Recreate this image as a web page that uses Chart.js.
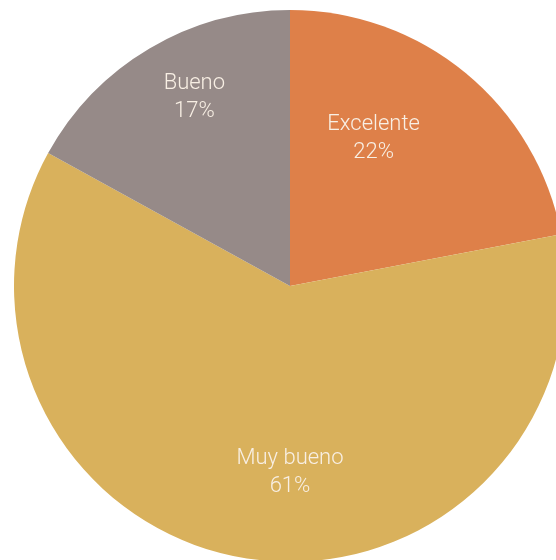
<!DOCTYPE html>
<html>
<head>
<meta charset="utf-8">
<script src="https://cdn.jsdelivr.net/npm/chart.js@4"></script>
<style>
  html, body { margin: 0; padding: 0; background: #fff; overflow: hidden; }
  #wrap { width: 580px; height: 572px; }
</style>
</head>
<body>
<div id="wrap"><canvas id="pieChart"></canvas></div>
<script>
// --- data ---
const categories = ['Excelente', 'Muy bueno', 'Bueno'];
const shares = [22, 61, 17];
const sliceColors = ['#de8049', '#d9b15c', '#968a88'];

// label placement (angle in degrees clockwise from top, radius as fraction of outer radius)
const labelAngles = [29.5, 180, -26.9];
const labelRadius = [0.615, 0.675, 0.766];

const sliceLabels = {
    id: 'sliceLabels',
    afterDatasetsDraw(chart) {
        const ctx = chart.ctx;
        const meta = chart.getDatasetMeta(0);
        ctx.save();
        ctx.fillStyle = '#f8efe4';
        ctx.font = '300 22px Roboto';
        ctx.textAlign = 'center';
        ctx.textBaseline = 'middle';
        meta.data.forEach((arc, i) => {
            const a = labelAngles[i] * Math.PI / 180;
            const r = arc.outerRadius * labelRadius[i];
            const x = arc.x + Math.sin(a) * r;
            const y = arc.y - Math.cos(a) * r;
            ctx.fillText(categories[i], x, y - 14);
            ctx.fillText(shares[i] + '%', x, y + 14);
        });
        ctx.restore();
    }
};

const ctxPie = document.getElementById('pieChart').getContext('2d');
new Chart(ctxPie, {
    type: 'pie',
    data: {
        labels: categories,
        datasets: [{
            data: shares,
            backgroundColor: sliceColors,
            borderWidth: 0
        }]
    },
    options: {
        responsive: true,
        maintainAspectRatio: false,
        animation: false,
        layout: { padding: 10 },
        plugins: {
            legend: { display: false },
            tooltip: { enabled: false }
        }
    },
    plugins: [sliceLabels]
});
</script>
</body>
</html>
